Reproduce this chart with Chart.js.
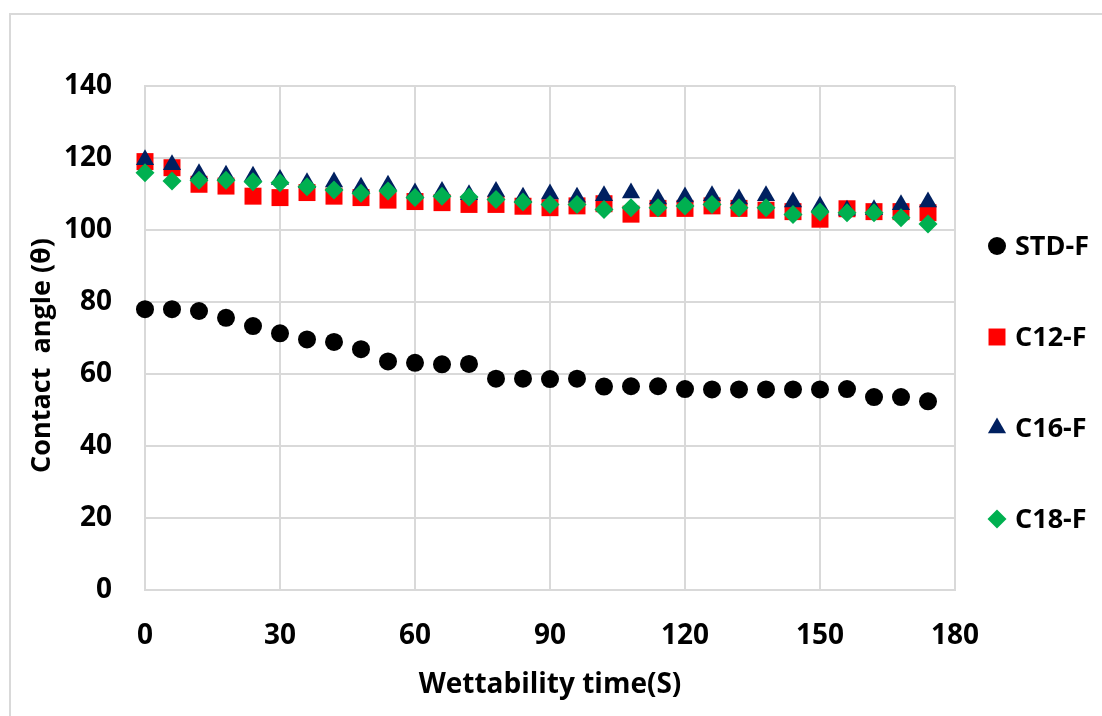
<!doctype html>
<head>
<style>
* {
    box-sizing: border-box;
    margin: 0;
    padding: 0;
}
body {
    width: 1102px;
    height: 716px;
    overflow: hidden;
    background: #fff;
    position: relative;
}
#frame {
    position: absolute;
    left: 9px;
    top: 13px;
    width: 1110px;
    height: 720px;
    border: 2px solid #d9d9d9;
}
#wrap {
    position: absolute;
    left: 0;
    top: 0;
    width: 1102px;
    height: 716px;
}
</style>
</head>
<div id="frame"></div>
<div id="wrap"><canvas></canvas></div>
<script src="https://cdn.jsdelivr.net/npm/chart.js"></script>
<script>

// wettability time (s)
let time = [0, 6, 12, 18, 24, 30, 36, 42, 48, 54, 60, 66, 72, 78, 84, 90, 96, 102, 108, 114, 120, 126, 132, 138, 144, 150, 156, 162, 168, 174]

// contact angle
let std_f = [78, 78, 77.5, 75.6, 73.3, 71.3, 69.6, 68.9, 66.9, 63.5, 63.1, 62.7, 62.8, 58.7, 58.7, 58.6, 58.7, 56.5, 56.6, 56.6, 55.8, 55.7, 55.7, 55.7, 55.7, 55.7, 55.8, 53.6, 53.6, 52.4]
let c12_f = [119, 117.3, 112.7, 112.2, 109.4, 109, 110.4, 109.4, 109, 108.3, 107.9, 107.6, 107.1, 107.1, 106.6, 106.2, 106.7, 107.3, 104.4, 106, 106, 106.7, 106, 105.5, 105.1, 103, 105.9, 105.1, 105.1, 104.8]
let c16_f = [119.5, 118.1, 115.6, 115.2, 114.9, 114, 113.1, 113.3, 111.9, 112.4, 110.3, 110.7, 109.8, 110.7, 109.1, 110, 109.1, 109.5, 110.3, 108.6, 109.2, 109.5, 108.6, 109.5, 107.8, 106.6, 105.5, 105.6, 107, 107.8]
let c18_f = [115.9, 113.6, 113.8, 113.8, 113.4, 113.1, 112, 111.1, 110.2, 110.8, 109, 109.4, 109.2, 108.5, 107.8, 107.1, 107.1, 105.7, 106.2, 106.2, 106.7, 107.1, 106.2, 106.2, 104.3, 105, 104.8, 104.8, 103.4, 101.7]

let x_ticks = [0, 30, 60, 90, 120, 150, 180]
let y_ticks = [0, 20, 40, 60, 80, 100, 120, 140]

let series = [
    { label: 'STD-F', values: std_f, color: '#000000', style: 'circle', radius: 9, order: 3 },
    { label: 'C12-F', values: c12_f, color: '#ff0000', style: 'rect', radius: 12, order: 2 },
    { label: 'C16-F', values: c16_f, color: '#002060', style: 'triangle', radius: 10.5, order: 1 },
    { label: 'C18-F', values: c18_f, color: '#00b050', style: 'rectRot', radius: 9.5, order: 0 },
]

let font = '"Open Sans", "DejaVu Sans", sans-serif'
let grid_color = '#d9d9d9'

let side_legend = {
    id: 'side_legend',
    afterDraw(chart) {
        let ctx = chart.ctx
        ctx.save()
        ctx.font = 'bold 27px ' + font
        ctx.textBaseline = 'middle'
        ctx.textAlign = 'left'
        chart.data.datasets.forEach(function (ds, i) {
            let y = 246 + i * 91
            ctx.fillStyle = ds.backgroundColor
            ctx.strokeStyle = ds.backgroundColor
            Chart.helpers.drawPoint(ctx, { pointStyle: ds.pointStyle, radius: ds.pointRadius, borderWidth: 0, rotation: 0 }, 997, y)
            ctx.fillStyle = '#000'
            ctx.fillText(ds.label, 1015, y + 1)
        })
        ctx.restore()
    },
}

let canvas = document.querySelector('canvas')

let chart = new Chart(canvas, {
    type: 'scatter',
    data: {
        datasets: series.map(s => ({
            label: s.label,
            data: time.map((t, i) => ({ x: t, y: s.values[i] })),
            backgroundColor: s.color,
            borderColor: s.color,
            pointStyle: s.style,
            pointRadius: s.radius,
            pointHoverRadius: s.radius,
            pointBorderWidth: 0,
            order: s.order,
            clip: false,
        })),
    },
    options: {
        responsive: true,
        maintainAspectRatio: false,
        animation: false,
        layout: {
            padding: { left: 0, top: 86, right: 147, bottom: 0 },
        },
        scales: {
            x: {
                type: 'linear',
                min: 0,
                max: 180,
                afterBuildTicks: axis => { axis.ticks = x_ticks.map(v => ({ value: v })) },
                afterFit: axis => { axis.height = 126 },
                grid: { color: grid_color, lineWidth: 2, drawTicks: false },
                border: { color: grid_color, width: 2 },
                ticks: {
                    padding: 29,
                    color: '#000',
                    font: { family: font, size: 28, weight: 'bold' },
                },
                title: {
                    display: true,
                    text: 'Wettability time(S)',
                    color: '#000',
                    font: { family: font, size: 28, weight: 'bold' },
                    padding: { top: 0, bottom: 14 },
                },
            },
            y: {
                min: 0,
                max: 140,
                afterBuildTicks: axis => { axis.ticks = y_ticks.map(v => ({ value: v })) },
                afterFit: axis => { axis.width = 145 },
                grid: { color: grid_color, lineWidth: 2, drawTicks: false },
                border: { color: grid_color, width: 2 },
                ticks: {
                    padding: 33,
                    color: '#000',
                    font: { family: font, size: 28, weight: 'bold' },
                },
                title: {
                    display: true,
                    // trailing spaces nudge the rotated title down a little, as in the original
                    text: 'Contact  angle (θ)\u00a0\u00a0\u00a0\u00a0\u00a0',
                    color: '#000',
                    font: { family: font, size: 27, weight: 'bold' },
                    padding: { top: 26, bottom: 0 },
                },
            },
        },
        plugins: {
            legend: { display: false },
            tooltip: { enabled: false },
        },
    },
    plugins: [side_legend],
})

</script>
